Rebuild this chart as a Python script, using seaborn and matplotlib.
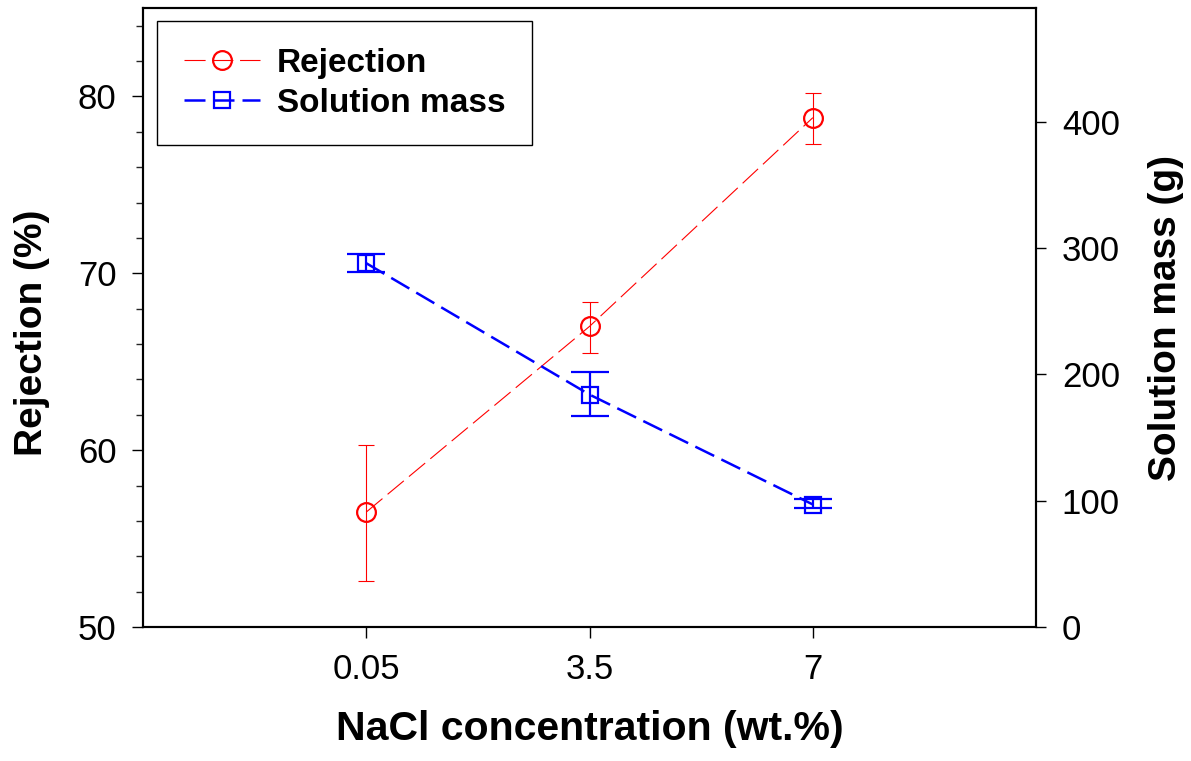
import numpy as np
import pandas as pd
import matplotlib
matplotlib.use("Agg")
import matplotlib.pyplot as plt
import seaborn as sns
from matplotlib.ticker import MultipleLocator

# --- Data ---
concentration = ["0.05", "3.5", "7"]
rejection = [56.5, 67.0, 78.8]
rejection_low = [52.6, 65.5, 77.3]
rejection_high = [60.3, 68.4, 80.2]
mass = [288, 184, 97]
mass_low = [281, 167, 94]
mass_high = [295, 202, 101]

# --- Style ---
sns.set_style("ticks")
plt.rcParams["font.family"] = ["Liberation Sans", "DejaVu Sans"]
plt.rcParams["text.color"] = "black"
plt.rcParams["axes.labelcolor"] = "black"

df = pd.DataFrame({"conc": concentration, "rejection": rejection, "mass": mass})
pos = np.arange(len(concentration))

fig, ax = plt.subplots(figsize=(11.91, 7.61), dpi=100)
fig.subplots_adjust(left=0.120, right=0.870, bottom=0.176, top=0.9895)
ax2 = ax.twinx()

# Rejection (left axis)
sns.lineplot(data=df, x="conc", y="rejection", ax=ax, color="red", lw=0.8,
             marker="o", markersize=13.5, markerfacecolor="none",
             markeredgecolor="red", markeredgewidth=1.6,
             label="Rejection", legend=False)
ax.lines[-1].set_linestyle((0, (19, 6)))
rej = np.array(rejection)
ax.errorbar(pos, rej, yerr=[rej - np.array(rejection_low), np.array(rejection_high) - rej],
            fmt="none", ecolor="red", elinewidth=0.8, capsize=6, capthick=0.8)

# Solution mass (right axis)
sns.lineplot(data=df, x="conc", y="mass", ax=ax2, color="blue", lw=1.8,
             marker="s", markersize=11, markerfacecolor="none",
             markeredgecolor="blue", markeredgewidth=1.6,
             label="Solution mass", legend=False)
ax2.lines[-1].set_linestyle((0, (8.4, 3.2)))
m = np.array(mass)
ax2.errorbar(pos, m, yerr=[m - np.array(mass_low), np.array(mass_high) - m],
             fmt="none", ecolor="blue", elinewidth=1.6, capsize=13.5, capthick=1.6)

# --- Axes ---
ax.set_xlim(-1, len(concentration))
ax.set_ylim(50, 85)
ax2.set_ylim(0, 490)
ax.yaxis.set_major_locator(MultipleLocator(10))
ax.yaxis.set_minor_locator(MultipleLocator(2))
ax2.yaxis.set_major_locator(MultipleLocator(100))

for a in (ax, ax2):
    for s in a.spines.values():
        s.set_linewidth(1.5)
        s.set_color("black")

ax.tick_params(axis="both", which="major", direction="out", length=8, width=1.0,
               labelsize=25, pad=11, colors="black")
ax.tick_params(axis="y", which="minor", direction="out", length=5, width=1.0)
ax2.tick_params(axis="y", which="major", direction="out", length=7.5, width=1.0,
                labelsize=25, pad=11, colors="black")

ax.set_xlabel("NaCl concentration (wt.%)", fontsize=29.5, fontweight="bold", labelpad=17)
ax.set_ylabel("Rejection (%)", fontsize=28, fontweight="bold", labelpad=20)
ax.yaxis.label.set_y(0.475)
ax2.set_ylabel("Solution mass (g)", fontsize=28, fontweight="bold", labelpad=20)

# --- Legend ---
h1, l1 = ax.get_legend_handles_labels()
h2, l2 = ax2.get_legend_handles_labels()
leg = ax2.legend(h1 + h2, l1 + l2, loc="upper left", bbox_to_anchor=(0.0157, 0.979),
                 borderaxespad=0, fancybox=False, framealpha=1, edgecolor="black",
                 prop={"size": 24, "weight": "bold"}, handlelength=2.3,
                 handletextpad=0.5, borderpad=0.8, labelspacing=0.27)
leg.get_frame().set_linewidth(1.0)

fig.savefig("out.png", dpi=100)
